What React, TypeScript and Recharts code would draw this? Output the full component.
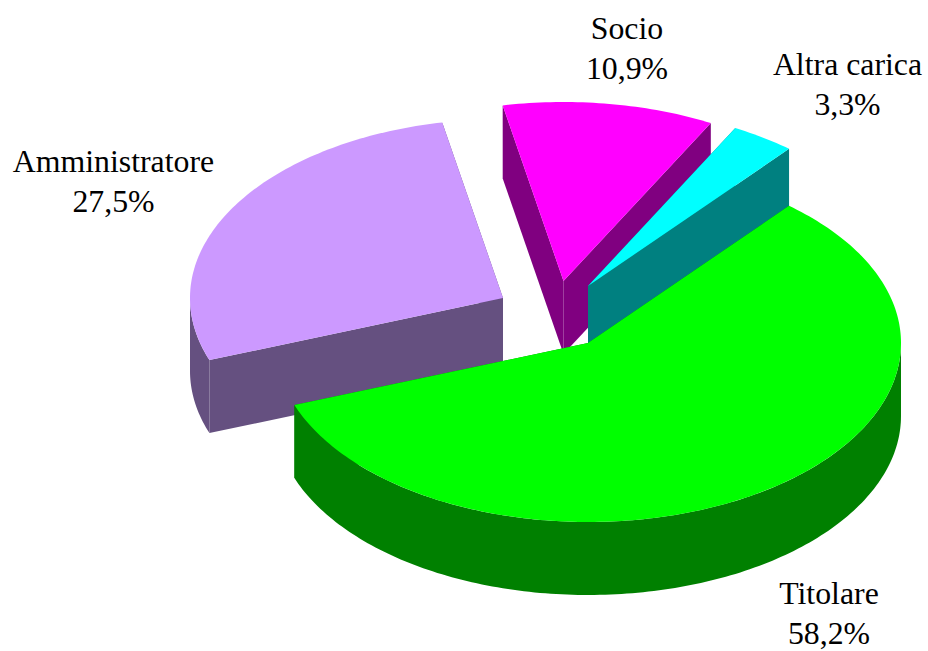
import React from "react";
import { PieChart, Pie } from "recharts";

// Data, in drawing order (back to front)
const categories = ["Amministratore", "Socio", "Altra carica", "Titolare"];
const shares = [27.5, 10.9, 3.3, 58.2];

const chartData = categories.map((name, i) => ({ name, value: shares[i] }));

// Styling and layout
const topColors = ["#CC99FF", "#FF00FF", "#00FFFF", "#00FF00"];
const sideColors = ["#655080", "#800080", "#008080", "#008000"];
const explode = [
  [-85, -45],
  [-24.5, -62],
  [0, -57],
  [0, 0],
];
const labelAnchors = [
  [113.5, 163],
  [627, 30],
  [847.5, 66],
  [829, 595],
];
const WIDTH = 928;
const HEIGHT = 651;
const CX = 588;
const CY = 343;
const RX = 313;
const SQUASH = 179 / 313;
const DEPTH = 73;
const FONT = '"Liberation Serif", "Times New Roman", serif';
const FONT_SIZE = 31.8;

const rad = (d: number) => (d * Math.PI) / 180;

function arcPts(cx: number, cy: number, r: number, a: number, b: number, dy = 0) {
  const pts: string[] = [];
  const n = Math.max(2, Math.ceil(Math.abs(b - a) / 1));
  for (let i = 0; i <= n; i++) {
    const t = a + ((b - a) * i) / n;
    pts.push(`${(cx + r * Math.cos(rad(t))).toFixed(2)},${(cy - r * SQUASH * Math.sin(rad(t)) + dy).toFixed(2)}`);
  }
  return pts;
}

function Slice(props: any) {
  const { cx, cy, outerRadius: r, startAngle, endAngle, index } = props;
  const a = Math.min(startAngle, endAngle);
  const b = Math.max(startAngle, endAngle);
  const [ox, oy] = explode[index];
  const x = cx + ox;
  const y = cy + oy;
  const top = topColors[index];
  const side = sideColors[index];

  const edge = (t: number) =>
    `${x},${y} ${x + r * Math.cos(rad(t))},${y - r * SQUASH * Math.sin(rad(t))} ${x + r * Math.cos(rad(t))},${y - r * SQUASH * Math.sin(rad(t)) + DEPTH} ${x},${y + DEPTH}`;

  const walls: string[] = [];
  for (const [lo, hi] of [
    [-180, 0],
    [180, 360],
    [540, 720],
  ]) {
    const s = Math.max(a, lo);
    const e = Math.min(b, hi);
    if (e > s) {
      walls.push([...arcPts(x, y, r, s, e), ...arcPts(x, y, r, s, e, DEPTH).reverse()].join(" "));
    }
  }

  return (
    <g>
      <polygon points={edge(a)} fill={side} />
      <polygon points={edge(b)} fill={side} />
      {walls.map((p, i) => (
        <polygon key={i} points={p} fill={side} />
      ))}
      <polygon points={[`${x},${y}`, ...arcPts(x, y, r, a, b)].join(" ")} fill={top} />
    </g>
  );
}

function SliceLabel(props: any) {
  const { index, name, value } = props;
  const [x, y] = labelAnchors[index];
  return (
    <text x={x} y={y} textAnchor="middle" fontFamily={FONT} fontSize={FONT_SIZE} fill="#000">
      <tspan x={x} y={y + 9}>{name}</tspan>
      <tspan x={x} y={y + 49}>{`${Number(value).toFixed(1).replace(".", ",")}%`}</tspan>
    </text>
  );
}

export default function App() {
  return (
    <div style={{ position: "absolute", left: 0, top: 0, width: WIDTH, height: HEIGHT, background: "#fff" }}>
      <PieChart width={WIDTH} height={HEIGHT} margin={{ top: 0, right: 0, bottom: 0, left: 0 }}>
        <Pie
          data={chartData}
          dataKey="value"
          nameKey="name"
          cx={CX}
          cy={CY}
          innerRadius={0}
          outerRadius={RX}
          startAngle={200.3}
          endAngle={-159.7}
          paddingAngle={0}
          stroke="none"
          shape={Slice}
          label={SliceLabel}
          labelLine={false}
          isAnimationActive={false}
        />
      </PieChart>
    </div>
  );
}
